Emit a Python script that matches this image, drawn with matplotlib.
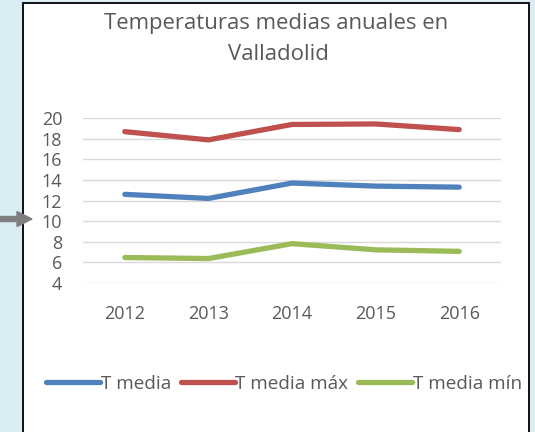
import matplotlib
matplotlib.use('Agg')
import matplotlib.pyplot as plt
from matplotlib.patches import Rectangle, FancyArrow

plt.rcParams['font.family'] = ['Open Sans', 'DejaVu Sans']

years = ['2012', '2013', '2014', '2015', '2016']
t_media = [12.6, 12.2, 13.7, 13.4, 13.3]
t_max = [18.7, 17.9, 19.4, 19.45, 18.9]
t_min = [6.45, 6.35, 7.8, 7.2, 7.05]
yticks = [4, 6, 8, 10, 12, 14, 16, 18, 20]

txt = '#595959'

fig = plt.figure(figsize=(5.35, 4.32), dpi=100, facecolor='#d9edf3')

# white chart box with black border
box = Rectangle((23 / 535, -0.05), (529 - 23) / 535, 1.05 - 3 / 432,
                transform=fig.transFigure, facecolor='white',
                edgecolor='black', linewidth=1.3, zorder=-1)
fig.patches.append(box)

ax = fig.add_axes([83 / 535, 1 - 282.7 / 432, 418 / 535, (282.7 - 118.3) / 432])
ax.set_zorder(1)
ax.set_facecolor('none')
x = range(len(years))
ax.plot(x, t_media, color='#4f81bd', lw=3.8, solid_capstyle='round', label='T media')
ax.plot(x, t_max, color='#c0504d', lw=3.8, solid_capstyle='round', label='T media máx')
ax.plot(x, t_min, color='#9bbb59', lw=3.8, solid_capstyle='round', label='T media mín')

ax.set_xlim(-0.5, 4.5)
ax.set_ylim(4, 20)
ax.set_yticks(yticks)
ax.set_xticks(list(x))
ax.set_xticklabels(years)
ax.grid(axis='y', color='#d9d9d9', lw=1.0)
ax.set_axisbelow(True)
for s in ax.spines.values():
    s.set_visible(False)
ax.tick_params(length=0, labelsize=13, labelcolor=txt)
ax.tick_params(axis='y', pad=15)
ax.tick_params(axis='x', pad=16)

fig.text(276 / 535, 1 - 23 / 432, 'Temperaturas medias anuales en',
         ha='center', va='center', fontsize=15.9, color=txt)
fig.text(278 / 535, 1 - 55 / 432, 'Valladolid',
         ha='center', va='center', fontsize=15.9, color=txt)

leg = fig.legend(loc='center', bbox_to_anchor=(284 / 535, 1 - 384 / 432), ncol=3,
                 frameon=False, fontsize=13.6, handlelength=2.85, handletextpad=0.05,
                 columnspacing=0.5, borderaxespad=0, borderpad=0)
for t in leg.get_texts():
    t.set_color(txt)
for h in leg.legend_handles:
    h.set_solid_capstyle('round')

# grey pointer arrow on the left
arrow = FancyArrow(0, (432 - 219) / 100, 0.32, 0, width=0.05, head_width=0.15,
                   head_length=0.15, length_includes_head=True,
                   transform=fig.dpi_scale_trans, color='#7f7f7f', zorder=5)
fig.patches.append(arrow)

fig.savefig('out.png', dpi=100, facecolor=fig.get_facecolor())
